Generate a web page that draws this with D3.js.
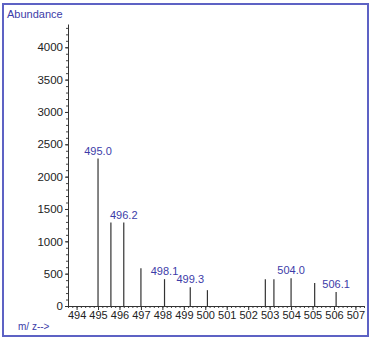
<!DOCTYPE html>
<html>
<head>
<meta charset="utf-8">
<script src="https://cdn.jsdelivr.net/npm/d3@7"></script>
<style>
    body { margin: 0; background: #fff; }
    text { font-family: "Liberation Sans", Arial, sans-serif; }
</style>
</head>
<body>
<svg id="chart" width="373" height="340"></svg>
<script>
// peaks
const mz = [495.0, 495.6, 496.2, 497.0, 498.1, 499.3, 500.1, 502.8, 503.2, 504.0, 505.1, 506.1];
const abundance = [2280, 1290, 1290, 585, 415, 290, 245, 415, 415, 430, 355, 215];
const labelled = [495.0, 496.2, 498.1, 499.3, 504.0, 506.1];
const yTicks = [0, 500, 1000, 1500, 2000, 2500, 3000, 3500, 4000];
const xTicks = d3.range(494, 508);

const svg = d3.select("#chart");
const plotLeft = 68, plotRight = 364, plotTop = 24, plotBottom = 306;
const blue = "#3c3ca8";

svg.append("rect")
        .attr("x", 3).attr("y", 4)
        .attr("width", 365).attr("height", 332)
        .attr("fill", "none")
        .attr("stroke", "#5d62c4")
        .attr("stroke-width", 2);

const x = d3.scaleLinear().domain([493.6, 507.4]).range([plotLeft, plotRight]);
const y = d3.scaleLinear().domain([0, 4360]).range([plotBottom, plotTop]);

// minor ticks
svg.append("g")
        .attr("transform", `translate(0,${plotBottom})`)
        .call(d3.axisBottom(x).tickValues(d3.range(493.6, 507.41, 0.2)).tickSize(2).tickFormat(""))
        .call(g => g.select(".domain").remove())
        .selectAll("line").attr("stroke", "#444");

svg.append("g")
        .attr("transform", `translate(${plotLeft},0)`)
        .call(d3.axisLeft(y).tickValues(d3.range(0, 4301, 100)).tickSize(2).tickFormat(""))
        .call(g => g.select(".domain").remove())
        .selectAll("line").attr("stroke", "#444");

const xAxis = svg.append("g")
        .attr("transform", `translate(0,${plotBottom})`)
        .call(d3.axisBottom(x).tickValues(xTicks).tickSize(4).tickSizeOuter(0).tickPadding(1).tickFormat(d3.format("d")));
xAxis.select(".domain").attr("stroke", "#333");
xAxis.selectAll("line").attr("stroke", "#333");
xAxis.selectAll("text")
        .attr("font-size", "11")
        .attr("font-family", "Liberation Sans, Arial, sans-serif")
        .attr("fill", "#222");

const yAxis = svg.append("g")
        .attr("transform", `translate(${plotLeft},0)`)
        .call(d3.axisLeft(y).tickValues(yTicks).tickSize(3).tickSizeOuter(0).tickPadding(2).tickFormat(d3.format("d")));
yAxis.select(".domain").attr("stroke", "#333");
yAxis.selectAll("line").attr("stroke", "#333");
yAxis.selectAll("text")
        .attr("font-size", "11.5")
        .attr("font-family", "Liberation Sans, Arial, sans-serif")
        .attr("fill", "#222");

svg.selectAll(".peak")
        .data(mz)
        .enter().append("line")
        .attr("class", "peak")
        .attr("x1", d => x(d)).attr("x2", d => x(d))
        .attr("y1", y(0))
        .attr("y2", (d, i) => y(abundance[i]))
        .attr("stroke", "#333")
        .attr("stroke-width", 1.2);

svg.selectAll(".peakLabel")
        .data(labelled)
        .enter().append("text")
        .attr("class", "peakLabel")
        .attr("x", d => x(d))
        .attr("y", d => y(abundance[mz.indexOf(d)]) - 4)
        .attr("text-anchor", "middle")
        .attr("font-size", "11")
        .attr("fill", blue)
        .text(d => d.toFixed(1));

svg.append("text")
        .attr("x", 7).attr("y", 18)
        .attr("font-size", "11")
        .attr("fill", blue)
        .text("Abundance");

svg.append("text")
        .attr("x", 18).attr("y", 330)
        .attr("font-size", "10")
        .attr("fill", blue)
        .text("m/ z-->");
</script>
</body>
</html>
